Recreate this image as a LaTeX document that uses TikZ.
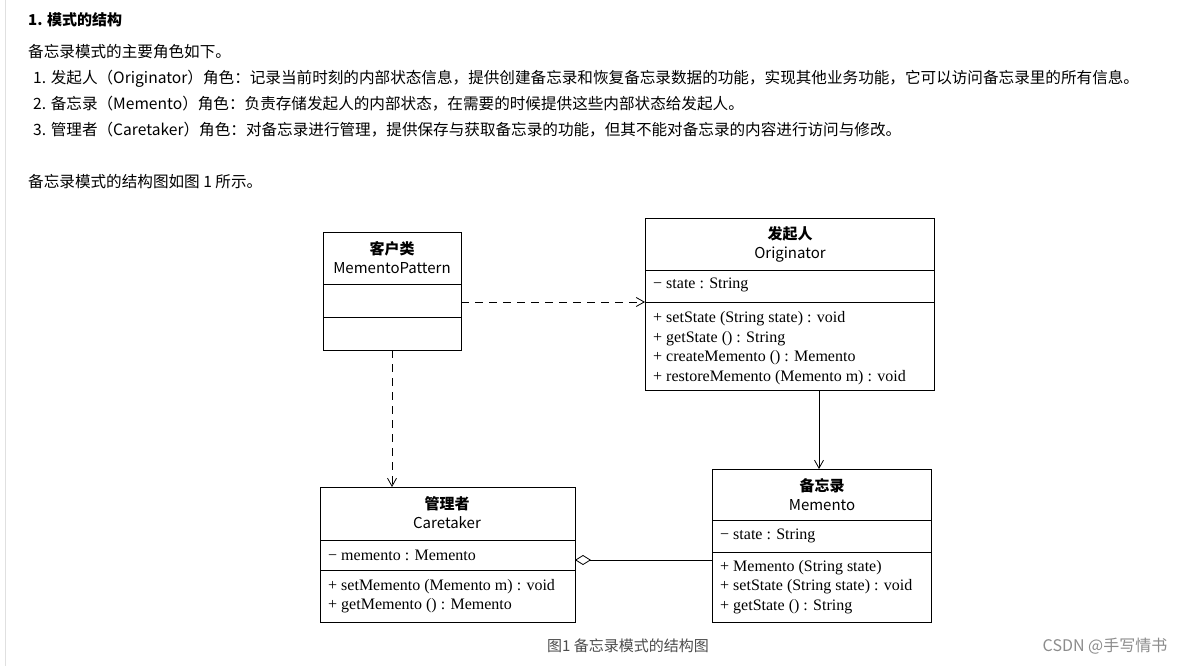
\documentclass[tikz,border=0pt]{standalone}
\usepackage{fontspec}
\setmainfont{Liberation Sans}
\newfontfamily\cjk{Noto Sans CJK SC}
\newfontfamily\ser{Liberation Serif}
\usetikzlibrary{arrows.meta}
\begin{document}
\begin{tikzpicture}[x=1pt,y=-1pt,
  txt/.style={anchor=west,inner sep=0pt,font=\cjk\fontsize{15.6}{17}\selectfont},
  box/.style={draw,line width=0.9pt},
  hd/.style={align=center,inner sep=0pt,font=\cjk\fontsize{15}{19}\selectfont},
  mem/.style={anchor=west,inner sep=0pt,align=left,font=\ser\fontsize{16}{19.5}\selectfont},
  conn/.style={line width=0.8pt}]
\useasboundingbox (0,0) rectangle (1193,666);
\fill[white] (0,0) rectangle (1193,666);
\draw[black!12] (5,0) -- (5,666);
\node[txt,font=\cjk\bfseries\fontsize{15}{16}\selectfont] (t0) at (28,20) {1. 模式的结构};
\node[txt] (t1) at (28,52) {备忘录模式的主要角色如下。};
\node[txt] (t2) at (33,79) {1. 发起人（Originator）角色：记录当前时刻的内部状态信息，提供创建备忘录和恢复备忘录数据的功能，实现其他业务功能，它可以访问备忘录里的所有信息。};
\node[txt] (t3) at (33,104) {2. 备忘录（Memento）角色：负责存储发起人的内部状态，在需要的时候提供这些内部状态给发起人。};
\node[txt] (t4) at (33,130) {3. 管理者（Caretaker）角色：对备忘录进行管理，提供保存与获取备忘录的功能，但其不能对备忘录的内容进行访问与修改。};
\node[txt] (t5) at (28,182) {备忘录模式的结构图如图 1 所示。};
% client
\draw[box] (323,232) rectangle (461,350);
\draw[box] (323,284) -- (461,284) (323,317) -- (461,317);
\node[hd] (ch) at (392,258) {\textbf{客户类}\\MementoPattern};
\coordinate (cr) at (461,302); \coordinate (cb) at (392,350);
% originator
\draw[box] (645,218) rectangle (934,390);
\draw[box] (645,270) -- (934,270) (645,302) -- (934,302);
\node[hd] (oh) at (790,244) {\textbf{发起人}\\Originator};
\node[mem] (oa) at (653,285) {− state : String};
\node[mem] (om) at (653,348) {+ setState (String state) : void\\+ getState () : String\\+ createMemento () : Memento\\+ restoreMemento (Memento m) : void};
\coordinate (ol) at (645,302); \coordinate (ob) at (819,390);
% caretaker
\draw[box] (320,487) rectangle (575,622);
\draw[box] (320,540) -- (575,540) (320,570) -- (575,570);
\node[hd] (kh) at (447,513) {\textbf{管理者}\\Caretaker};
\node[mem] (ka) at (328,555) {− memento : Memento};
\node[mem] (km) at (328,596) {+ setMemento (Memento m) : void\\+ getMemento () : Memento};
\coordinate (kt) at (392,487); \coordinate (kr) at (575,560);
% memento
\draw[box] (712,469) rectangle (931,622);
\draw[box] (712,520) -- (931,520) (712,552) -- (931,552);
\node[hd] (mh) at (822,495) {\textbf{备忘录}\\Memento};
\node[mem] (ma) at (720,536) {− state : String};
\node[mem] (mm) at (720,587) {+ Memento (String state)\\+ setState (String state) : void\\+ getState () : String};
\coordinate (mt) at (819,469); \coordinate (ml) at (712,560);
% connectors
\draw[conn,dash pattern=on 8pt off 6pt,-{Straight Barb[length=8pt,width=9pt]}] (cr) -- (ol);
\draw[conn,dash pattern=on 8pt off 6pt,-{Straight Barb[length=8pt,width=9pt]}] (cb) -- (kt);
\draw[conn,-{Straight Barb[length=8pt,width=9pt]}] (ob) -- (mt);
\draw[conn,{Diamond[open,length=16pt,width=10pt]}-] (kr) -- (ml);
\node[inner sep=0pt,font=\cjk\fontsize{15}{16}\selectfont,text=black!70] (cap) at (628,646) {图1 备忘录模式的结构图};
\node[inner sep=0pt,font=\cjk\fontsize{16}{16}\selectfont,text=black!45] (wm) at (1105,646) {CSDN @手写情书};
\end{tikzpicture}
\end{document}
